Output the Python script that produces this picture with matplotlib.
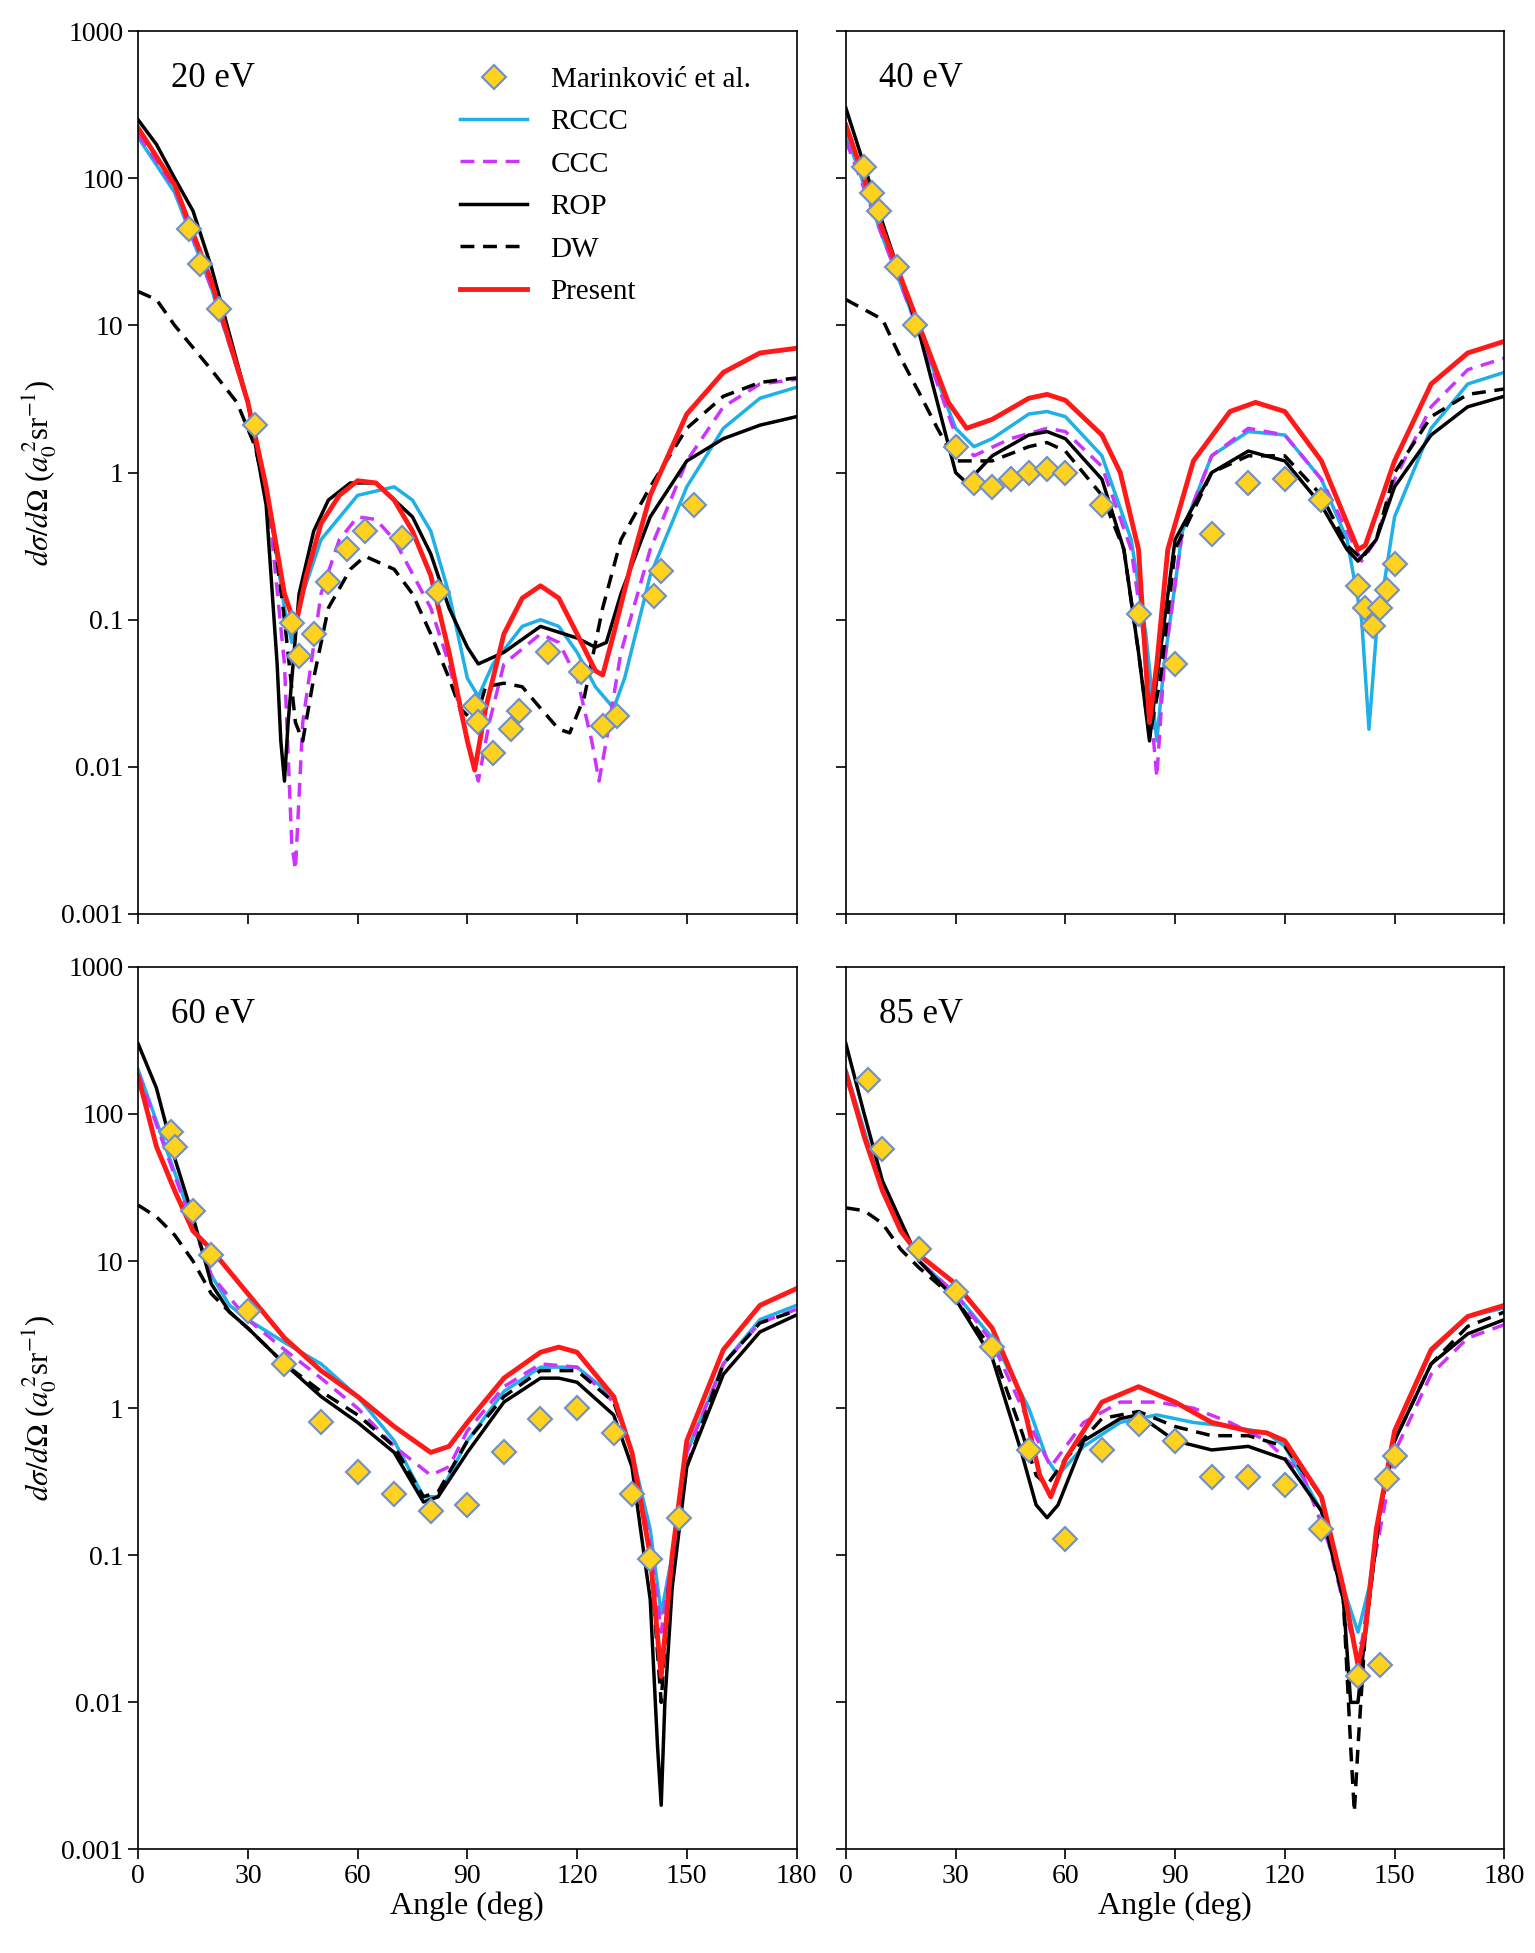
#!/usr/bin/env python3
"""Elastic DCS at 20, 40, 60 and 85 eV: theory curves vs. Marinkovic et al. data.

Values were read off the published figure and typed in below; the script
emits `out.png` with one log-scale panel per impact energy.
"""
import matplotlib

matplotlib.use("Agg")
import matplotlib.pyplot as plt

plt.rcParams["font.family"] = ["Liberation Serif", "DejaVu Serif"]
plt.rcParams["mathtext.fontset"] = "stix"

# Each curve: list of (angle, dcs) pairs.
PANELS = {
    "20 eV": {
        "Present": [(0, 220), (10, 90), (20, 20), (30, 3), (35, 0.8), (40, 0.15), (43, 0.09), (46, 0.2),
                    (50, 0.45), (55, 0.7), (60, 0.88), (65, 0.85), (70, 0.65), (75, 0.4), (80, 0.2), (85, 0.06),
                    (90, 0.015), (92, 0.0095), (95, 0.025), (100, 0.08), (105, 0.14), (110, 0.17), (115, 0.14),
                    (120, 0.08), (125, 0.045), (127, 0.042), (130, 0.08), (135, 0.25), (140, 0.7), (150, 2.5),
                    (160, 4.8), (170, 6.5), (180, 7)],
        "RCCC": [(0, 190), (10, 80), (20, 18), (30, 3), (35, 0.8), (40, 0.12), (42, 0.07), (45, 0.15),
                 (50, 0.35), (60, 0.7), (70, 0.8), (75, 0.65), (80, 0.4), (85, 0.15), (90, 0.04), (93, 0.03),
                 (97, 0.05), (105, 0.09), (110, 0.1), (115, 0.09), (120, 0.06), (125, 0.035), (130, 0.025),
                 (133, 0.04), (140, 0.2), (150, 0.8), (160, 2), (170, 3.2), (180, 3.8)],
        "CCC": [(0, 200), (10, 85), (20, 18), (30, 3), (36, 0.5), (40, 0.05), (42, 0.003), (43, 0.002),
                (45, 0.02), (50, 0.15), (55, 0.35), (60, 0.5), (65, 0.48), (70, 0.35), (80, 0.12), (85, 0.05),
                (90, 0.015), (93, 0.008), (96, 0.02), (100, 0.05), (110, 0.08), (115, 0.07), (120, 0.04),
                (124, 0.015), (126, 0.008), (128, 0.015), (132, 0.06), (140, 0.3), (150, 1.2), (160, 2.8),
                (170, 4), (180, 4.3)],
        "ROP": [(0, 250), (5, 170), (10, 100), (15, 60), (20, 25), (30, 3), (35, 0.6), (38, 0.05), (39, 0.015),
                (40, 0.008), (41, 0.02), (44, 0.15), (48, 0.4), (52, 0.65), (58, 0.85), (65, 0.85), (75, 0.5),
                (80, 0.28), (85, 0.12), (90, 0.065), (93, 0.05), (100, 0.06), (110, 0.09), (120, 0.075),
                (125, 0.065), (128, 0.07), (132, 0.15), (140, 0.5), (150, 1.2), (160, 1.7), (170, 2.1), (180, 2.4)],
        "DW": [(0, 17), (5, 15), (10, 10), (20, 5), (27, 3), (32, 1.5), (37, 0.4), (40, 0.1), (43, 0.02),
               (45, 0.015), (48, 0.04), (52, 0.12), (58, 0.22), (62, 0.27), (70, 0.22), (75, 0.15), (80, 0.08),
               (85, 0.04), (88, 0.025), (92, 0.02), (95, 0.035), (100, 0.037), (105, 0.035), (110, 0.025),
               (115, 0.018), (118, 0.017), (122, 0.03), (127, 0.12), (132, 0.35), (140, 0.8), (150, 2),
               (160, 3.3), (170, 4.1), (180, 4.4)],
        "exp": [(14, 45), (17, 26), (22, 13), (32, 2.1), (42, 0.095), (44, 0.057), (48, 0.08), (52, 0.18),
                (57, 0.3), (62, 0.4), (72, 0.36), (82, 0.155), (92, 0.026), (93, 0.02), (97, 0.0125),
                (102, 0.018), (104, 0.024), (112, 0.06), (121, 0.044), (127, 0.019), (131, 0.022),
                (141, 0.145), (143, 0.215), (152, 0.6)],
    },
    "40 eV": {
        "Present": [(0, 230), (5, 100), (10, 45), (20, 10), (28, 3), (33, 2), (40, 2.3), (50, 3.2), (55, 3.4),
                    (60, 3.1), (70, 1.8), (75, 1), (80, 0.3), (83, 0.02), (85, 0.05), (88, 0.3), (95, 1.2),
                    (105, 2.6), (112, 3), (120, 2.6), (130, 1.2), (135, 0.6), (140, 0.3), (142, 0.32),
                    (150, 1.2), (160, 4), (170, 6.5), (180, 7.8)],
        "RCCC": [(0, 200), (10, 40), (20, 9), (30, 2), (35, 1.5), (40, 1.7), (50, 2.5), (55, 2.6), (60, 2.4),
                 (70, 1.3), (78, 0.35), (82, 0.08), (85, 0.015), (87, 0.05), (92, 0.4), (100, 1.3), (110, 1.9),
                 (120, 1.8), (130, 0.9), (137, 0.35), (141, 0.1), (143, 0.018), (145, 0.08), (150, 0.5),
                 (160, 2), (170, 4), (180, 4.8)],
        "CCC": [(0, 180), (10, 40), (20, 9), (30, 1.8), (35, 1.3), (45, 1.7), (55, 2), (60, 1.9), (70, 1.1),
                (78, 0.3), (82, 0.06), (85, 0.0085), (87, 0.05), (92, 0.4), (100, 1.3), (110, 2), (120, 1.8),
                (130, 0.9), (137, 0.4), (141, 0.25), (145, 0.35), (150, 0.9), (160, 2.8), (170, 5), (180, 6)],
        "ROP": [(0, 300), (10, 50), (20, 9), (25, 3), (30, 1), (33, 0.85), (40, 1.3), (50, 1.8), (55, 1.9),
                (60, 1.7), (70, 0.9), (76, 0.3), (80, 0.06), (83, 0.015), (85, 0.04), (90, 0.35), (100, 1),
                (110, 1.4), (120, 1.2), (130, 0.6), (137, 0.3), (140, 0.25), (145, 0.35), (150, 0.8),
                (160, 1.8), (170, 2.8), (180, 3.3)],
        "DW": [(0, 15), (10, 11), (15, 6), (20, 3.5), (25, 2), (30, 1.2), (40, 1.2), (50, 1.5), (55, 1.6),
               (60, 1.4), (70, 0.7), (76, 0.3), (80, 0.06), (83, 0.016), (86, 0.04), (90, 0.3), (100, 1),
               (110, 1.3), (120, 1.3), (130, 0.7), (137, 0.32), (141, 0.26), (145, 0.35), (150, 1),
               (160, 2.4), (170, 3.4), (180, 3.7)],
        "exp": [(5, 120), (7, 80), (9, 60), (14, 25), (19, 10), (30, 1.5), (35, 0.85), (40, 0.8), (45, 0.9),
                (50, 1.0), (55, 1.05), (60, 1.0), (70, 0.6), (80, 0.11), (90, 0.05), (100, 0.38), (110, 0.85),
                (120, 0.9), (130, 0.65), (140, 0.17), (142, 0.12), (144, 0.09), (146, 0.12), (148, 0.16),
                (150, 0.24)],
    },
    "60 eV": {
        "Present": [(0, 180), (5, 60), (10, 30), (15, 16), (20, 12), (30, 6), (40, 3), (50, 1.8), (60, 1.2),
                    (70, 0.75), (80, 0.5), (85, 0.55), (90, 0.8), (100, 1.6), (110, 2.4), (115, 2.6),
                    (120, 2.4), (130, 1.2), (135, 0.5), (140, 0.1), (143, 0.015), (146, 0.1), (150, 0.6),
                    (160, 2.5), (170, 5), (180, 6.5)],
        "RCCC": [(0, 200), (10, 40), (20, 8), (25, 5), (30, 4), (40, 2.8), (50, 2), (60, 1.2), (70, 0.6),
                 (78, 0.25), (82, 0.25), (90, 0.6), (100, 1.3), (110, 1.9), (120, 1.9), (130, 1.2), (135, 0.5),
                 (140, 0.15), (143, 0.04), (146, 0.1), (150, 0.5), (160, 2), (170, 4), (180, 5)],
        "CCC": [(0, 190), (10, 38), (20, 8), (30, 4), (40, 2.5), (50, 1.6), (60, 1), (70, 0.55), (80, 0.35),
                (85, 0.4), (90, 0.7), (100, 1.4), (110, 2), (120, 1.9), (130, 1.1), (135, 0.5), (140, 0.12),
                (143, 0.03), (146, 0.1), (150, 0.5), (160, 2), (170, 3.8), (180, 4.7)],
        "ROP": [(0, 300), (5, 150), (10, 50), (15, 20), (20, 7), (25, 4.5), (30, 3.5), (40, 2), (50, 1.2),
                (60, 0.8), (70, 0.5), (78, 0.23), (82, 0.25), (90, 0.5), (100, 1.1), (110, 1.6), (115, 1.6),
                (120, 1.5), (130, 0.9), (135, 0.4), (140, 0.05), (142, 0.005), (143, 0.002), (144, 0.01),
                (146, 0.06), (150, 0.4), (160, 1.7), (170, 3.3), (180, 4.3)],
        "DW": [(0, 24), (5, 20), (10, 15), (15, 10), (20, 6), (25, 4.5), (30, 3.5), (40, 2), (50, 1.3),
               (60, 0.9), (70, 0.55), (78, 0.25), (82, 0.27), (90, 0.6), (100, 1.2), (110, 1.8), (120, 1.8),
               (130, 1.1), (135, 0.5), (140, 0.1), (143, 0.01), (145, 0.06), (150, 0.4), (160, 2), (170, 3.8),
               (180, 4.6)],
        "exp": [(9, 75), (10, 60), (15, 22), (20, 11), (30, 4.6), (40, 2), (50, 0.8), (60, 0.37), (70, 0.26),
                (80, 0.2), (90, 0.22), (100, 0.5), (110, 0.85), (120, 1), (130, 0.68), (135, 0.26),
                (140, 0.095), (148, 0.18)],
    },
    "85 eV": {
        "Present": [(0, 190), (5, 70), (10, 30), (15, 16), (20, 11), (30, 7), (40, 3.5), (48, 1.2), (53, 0.35),
                    (56, 0.25), (60, 0.45), (70, 1.1), (80, 1.4), (90, 1.1), (100, 0.8), (110, 0.7), (115, 0.68),
                    (120, 0.6), (130, 0.25), (136, 0.06), (140, 0.018), (142, 0.03), (145, 0.15), (150, 0.7),
                    (160, 2.5), (170, 4.2), (180, 5)],
        "RCCC": [(0, 200), (10, 30), (20, 10), (30, 6), (40, 3), (50, 1), (55, 0.45), (58, 0.35), (65, 0.55),
                 (75, 0.8), (85, 0.9), (95, 0.8), (105, 0.75), (115, 0.68), (120, 0.55), (130, 0.2),
                 (136, 0.06), (140, 0.03), (143, 0.06), (146, 0.2), (150, 0.7), (160, 2.4), (170, 4.2),
                 (180, 4.8)],
        "CCC": [(0, 180), (10, 30), (20, 10), (30, 6), (40, 2.8), (50, 0.8), (56, 0.4), (65, 0.8), (75, 1.1),
                (85, 1.1), (95, 1), (105, 0.8), (115, 0.6), (125, 0.35), (132, 0.12), (138, 0.03),
                (141, 0.025), (144, 0.08), (150, 0.5), (160, 1.7), (170, 3), (180, 3.7)],
        "ROP": [(0, 300), (5, 100), (10, 35), (20, 10), (30, 5.5), (40, 2.2), (48, 0.5), (52, 0.22),
                (55, 0.18), (58, 0.22), (65, 0.6), (75, 0.85), (80, 0.9), (90, 0.6), (100, 0.52), (110, 0.55),
                (120, 0.45), (130, 0.2), (136, 0.05), (138, 0.01), (140, 0.01), (142, 0.03), (146, 0.2),
                (150, 0.6), (160, 2), (170, 3.2), (180, 4)],
        "DW": [(0, 23), (5, 22), (10, 18), (15, 12), (20, 9), (30, 5.5), (40, 2.5), (48, 0.7), (52, 0.35),
               (55, 0.3), (60, 0.45), (70, 0.85), (80, 0.95), (90, 0.75), (100, 0.65), (110, 0.65), (120, 0.55),
               (130, 0.25), (136, 0.05), (138, 0.005), (139, 0.0018), (140, 0.005), (142, 0.03), (146, 0.2),
               (150, 0.6), (160, 2), (170, 3.6), (180, 4.5)],
        "exp": [(6, 170), (10, 58), (20, 12), (30, 6.2), (40, 2.6), (50, 0.52), (60, 0.13), (70, 0.52),
                (80, 0.78), (90, 0.6), (100, 0.34), (110, 0.34), (120, 0.3), (130, 0.15), (140, 0.015),
                (146, 0.018), (148, 0.33), (150, 0.47)],
    },
}

STYLES = {
    "RCCC": dict(color="#1fb0e8", ls="-", lw=2.5),
    "CCC": dict(color="#cc33ff", ls=(0, (4, 2.5)), lw=2.5),
    "ROP": dict(color="black", ls="-", lw=2.5),
    "DW": dict(color="black", ls=(0, (4, 2.5)), lw=2.5),
    "Present": dict(color="#ff1a1a", ls="-", lw=3.5),
}

fig, axes = plt.subplots(2, 2, figsize=(15.35, 19.53))
fig.subplots_adjust(left=0.09, right=0.98, top=0.984, bottom=0.053, wspace=0.075, hspace=0.06)

for ax, (title, data) in zip(axes.flat, PANELS.items()):
    ex = data["exp"]
    ax.plot([a for a, _ in ex], [v for _, v in ex], "D", ms=12, mfc="#ffd21f", mec="#6f8fc8",
            mew=1.5, ls="none", label="Marinković et al.", zorder=5)
    for name in ["RCCC", "CCC", "ROP", "DW", "Present"]:
        pts = data[name]
        ax.plot([a for a, _ in pts], [v for _, v in pts], label=name, **STYLES[name])
    ax.set_yscale("log")
    ax.set_xlim(0, 180)
    ax.set_ylim(0.001, 1000)
    ax.set_xticks(range(0, 181, 30))
    ax.tick_params(labelsize=20, length=7, width=1.2)
    ax.minorticks_off()
    ax.yaxis.set_major_formatter(matplotlib.ticker.FuncFormatter(lambda v, _: f"{v:g}"))
    for s in ax.spines.values():
        s.set_linewidth(1.2)
    ax.text(0.05, 0.965, title, transform=ax.transAxes, fontsize=25, va="top")

for ax in axes[0]:
    ax.tick_params(labelbottom=False)
for ax in axes[:, 1]:
    ax.tick_params(labelleft=False)
for ax in axes[1]:
    ax.set_xlabel("Angle (deg)", fontsize=23, labelpad=2)
for ax in axes[:, 0]:
    ax.set_ylabel(r"$d\sigma/d\Omega$ ($a_0^{\,2}$sr$^{-1}$)", fontsize=22, labelpad=2)

axes[0, 0].legend(loc="upper right", bbox_to_anchor=(0.97, 0.99), frameon=False, fontsize=21,
                  handlelength=2.3, labelspacing=0.55)

plt.savefig("out.png", dpi=100)
plt.close()
